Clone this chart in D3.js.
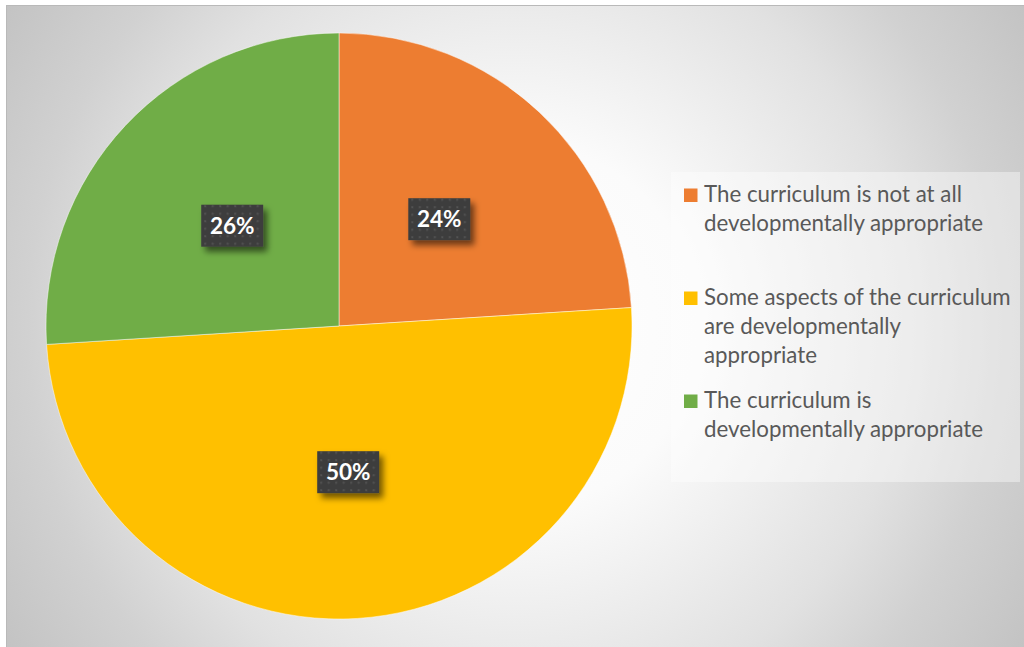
<!DOCTYPE html>
<html>
<head>
<meta charset="utf-8">
<script src="https://cdn.jsdelivr.net/npm/d3@7"></script>
<style>
  html, body { margin: 0; padding: 0; background: #ffffff; }
  svg { display: block; }
</style>
</head>
<body>
<svg id="chart" width="1024" height="647"></svg>
<script>
// Survey responses: how developmentally appropriate the curriculum is
const categories = [
  "The curriculum is not at all developmentally appropriate",
  "Some aspects of the curriculum are developmentally appropriate",
  "The curriculum is developmentally appropriate"
];
const values = [24, 50, 26];
const percentLabels = ["24%", "50%", "26%"];
const colors = ["#ED7D31", "#FFC000", "#70AD47"];

const W = 1024, H = 647;
const svg = d3.select("#chart");
const defs = svg.append("defs");

// Chart-area background: soft radial fade from white to gray
const bg = defs.append("radialGradient")
  .attr("id", "bgGrad")
  .attr("gradientUnits", "userSpaceOnUse")
  .attr("cx", 515).attr("cy", 326).attr("r", 610);
[[0, "#ffffff"], [0.3, "#fbfbfb"], [0.65, "#e1e1e1"], [0.8, "#d1d1d1"], [1, "#c2c2c2"]]
  .forEach(([o, c]) => bg.append("stop").attr("offset", o).attr("stop-color", c));

// Dotted fill for the data-label boxes
const pat = defs.append("pattern")
  .attr("id", "dots")
  .attr("patternUnits", "userSpaceOnUse")
  .attr("width", 7.5).attr("height", 7.5);
pat.append("rect").attr("width", 7.5).attr("height", 7.5).attr("fill", "#3d3d3d");
pat.append("rect").attr("x", 2).attr("y", 2).attr("width", 2).attr("height", 2).attr("fill", "#525252");

const shadow = defs.append("filter")
  .attr("id", "lblShadow")
  .attr("x", "-30%").attr("y", "-30%").attr("width", "170%").attr("height", "180%");
shadow.append("feDropShadow")
  .attr("dx", 4).attr("dy", 5).attr("stdDeviation", 3)
  .attr("flood-color", "#000").attr("flood-opacity", 0.55);

// Chart area
svg.append("rect")
  .attr("x", 6.5).attr("y", 5.5)
  .attr("width", W + 10).attr("height", H + 10)
  .attr("fill", "url(#bgGrad)")
  .attr("stroke", "#b9b9b9").attr("stroke-width", 1);

// Pie
const cx = 339, cy = 326, R = 293;
const pie = d3.pie().sort(null).value(d => d.value);
const arc = d3.arc().innerRadius(0).outerRadius(R);
const data = categories.map((c, i) => ({ name: c, value: values[i], label: percentLabels[i], color: colors[i] }));
const arcs = pie(data);

const g = svg.append("g").attr("transform", `translate(${cx},${cy})`);
g.selectAll("path.slice")
  .data(arcs)
  .join("path")
  .attr("class", "slice")
  .attr("d", arc)
  .attr("fill", d => d.data.color)
  .attr("stroke", "rgba(255,255,255,0.6)")
  .attr("stroke-width", 0.8);

// Data labels in dark boxes at the slice centroids
const boxW = 62, boxH = 42;
const lbl = g.selectAll("g.lbl")
  .data(arcs)
  .join("g")
  .attr("class", "lbl")
  .attr("transform", d => {
    const [x, y] = arc.centroid(d);
    return `translate(${x},${y})`;
  });
lbl.append("rect")
  .attr("x", -boxW / 2).attr("y", -boxH / 2)
  .attr("width", boxW).attr("height", boxH)
  .attr("fill", "url(#dots)")
  .attr("filter", "url(#lblShadow)");
lbl.append("text")
  .attr("text-anchor", "middle")
  .attr("dy", "0.36em")
  .attr("font-family", "Lato, 'Open Sans', sans-serif")
  .attr("font-weight", 700)
  .attr("font-size", 22.5)
  .attr("fill", "#ffffff")
  .text(d => d.data.label);

// Legend
const legX = 671, legY = 172, legW = 349, legH = 310;
const legend = svg.append("g");
legend.append("rect")
  .attr("x", legX).attr("y", legY)
  .attr("width", legW).attr("height", legH)
  .attr("fill", "#ffffff").attr("fill-opacity", 0.4);

const firstBaseline = 202, entryStep = 103, lineH = 28.8, wrapW = 312;
const textX = 704, markX = 684, markS = 13.5;

data.forEach((d, i) => {
  const base = firstBaseline + i * entryStep;
  legend.append("rect")
    .attr("x", markX).attr("y", base - markS)
    .attr("width", markS).attr("height", markS)
    .attr("fill", d.color);
  const t = legend.append("text")
    .attr("font-family", "Lato, 'Open Sans', sans-serif")
    .attr("font-size", 22.3)
    .attr("fill", "#595959");
  // greedy word wrap to the legend's text width
  const words = d.name.split(" ");
  let line = [], lineNo = 0;
  let tspan = t.append("tspan").attr("x", textX).attr("y", base);
  words.forEach(w => {
    line.push(w);
    tspan.text(line.join(" "));
    if (tspan.node().getComputedTextLength() > wrapW && line.length > 1) {
      line.pop();
      tspan.text(line.join(" "));
      line = [w];
      lineNo++;
      tspan = t.append("tspan").attr("x", textX).attr("y", base + lineNo * lineH).text(w);
    }
  });
});
</script>
</body>
</html>
